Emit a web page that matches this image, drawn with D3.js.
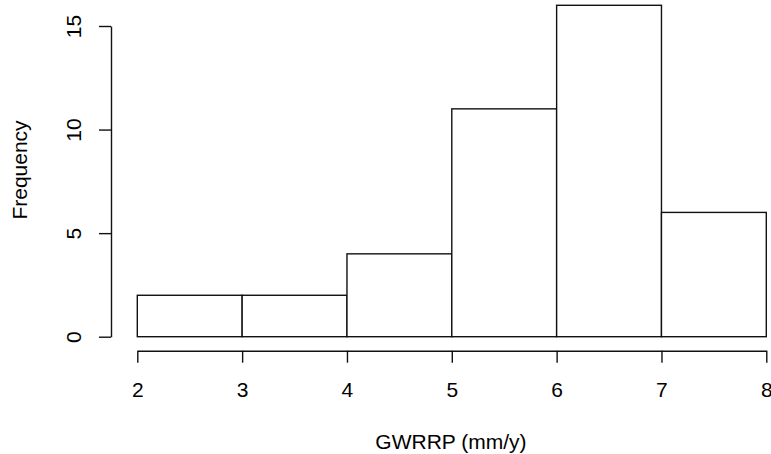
<!DOCTYPE html>
<html>
<head>
<meta charset="utf-8">
<script src="https://cdn.jsdelivr.net/npm/d3@7"></script>
<style>
  html, body { margin: 0; padding: 0; background: #fff; }
  svg { display: block; }
  text { font-family: "Liberation Sans", Arial, sans-serif; fill: #000; }
</style>
</head>
<body>
<svg id="chart" width="771" height="454"></svg>
<script>
// Histogram bins (lower/upper edges) and counts
const binStart = [2, 3, 4, 5, 6, 7];
const binEnd   = [3, 4, 5, 6, 7, 8];
const counts   = [2, 2, 4, 11, 16, 6];
const xTicks = [2, 3, 4, 5, 6, 7, 8];
const yTicks = [0, 5, 10, 15];
const xTitle = "GWRRP (mm/y)";
const yTitle = "Frequency";

const svg = d3.select("#chart");
const fontSize = 21;

const x = d3.scaleLinear().domain([2, 8]).range([137.3, 766.3]);
const y = d3.scaleLinear().domain([0, 15]).range([336.7, 26]);

// bars
svg.append("g")
  .selectAll("rect")
  .data(counts)
  .join("rect")
  .attr("x", (d, i) => x(binStart[i]))
  .attr("width", (d, i) => x(binEnd[i]) - x(binStart[i]))
  .attr("y", d => y(d))
  .attr("height", d => y(0) - y(d))
  .attr("fill", "#fff")
  .attr("stroke", "#111")
  .attr("stroke-width", 1.4);

// x axis, set below the bars
const xAxisY = 350.7;
const xAxis = svg.append("g").attr("transform", `translate(0,${xAxisY})`)
  .call(d3.axisBottom(x).tickValues(xTicks).tickFormat(d3.format("d"))
    .tickSizeInner(12).tickSizeOuter(0).tickPadding(19));
xAxis.select(".domain").attr("stroke", "#111").attr("stroke-width", 1.4);
xAxis.selectAll(".tick line").attr("stroke", "#111").attr("stroke-width", 1.4);
xAxis.selectAll(".tick text").attr("font-size", fontSize)
  .attr("font-family", "Liberation Sans, Arial, sans-serif").attr("fill", "#000");

// y axis, offset to the left, labels rotated
const yAxisX = 111;
const yAxis = svg.append("g").attr("transform", `translate(${yAxisX},0)`)
  .call(d3.axisLeft(y).tickValues(yTicks).tickFormat(d3.format("d"))
    .tickSizeInner(12).tickSizeOuter(0));
yAxis.select(".domain").attr("stroke", "#111").attr("stroke-width", 1.4);
yAxis.selectAll(".tick line").attr("stroke", "#111").attr("stroke-width", 1.4);
yAxis.selectAll(".tick text")
  .attr("font-size", fontSize)
  .attr("font-family", "Liberation Sans, Arial, sans-serif").attr("fill", "#000")
  .attr("x", null).attr("dy", null)
  .attr("text-anchor", "middle")
  .attr("transform", "translate(-30,0) rotate(-90)");

// axis titles
svg.append("text")
  .attr("x", 451).attr("y", 449)
  .attr("text-anchor", "middle")
  .attr("font-size", fontSize)
  .text(xTitle);

svg.append("text")
  .attr("transform", "translate(27,170) rotate(-90)")
  .attr("text-anchor", "middle")
  .attr("font-size", fontSize)
  .text(yTitle);
</script>
</body>
</html>
